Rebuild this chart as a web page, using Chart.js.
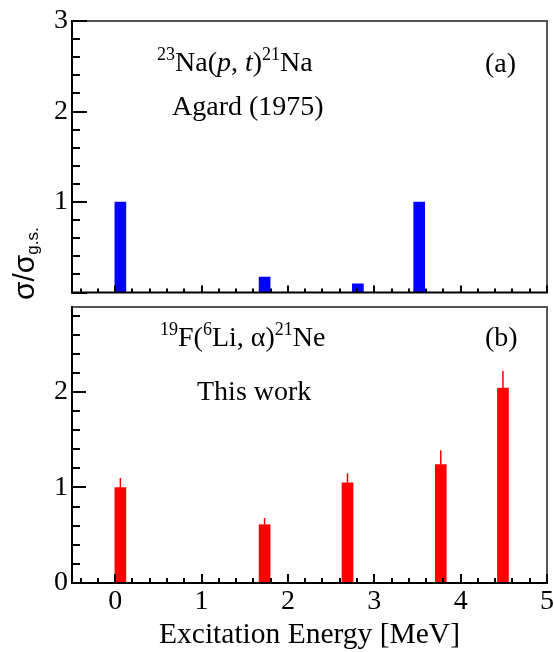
<!DOCTYPE html>
<html>
<head>
<meta charset="utf-8">
<script src="https://cdn.jsdelivr.net/npm/chart.js@4.4.1/dist/chart.umd.min.js"></script>
<style>
  html, body { margin: 0; padding: 0; background: #fff; }
  #wrap { position: relative; width: 554px; height: 652px; }
  canvas { position: absolute; left: 0; }
  #chartA { top: 0; }
  #chartB { top: 300px; }
</style>
</head>
<body>
<div id="wrap">
  <canvas id="chartA" width="554" height="310"></canvas>
  <canvas id="chartB" width="554" height="352"></canvas>
</div>
<script>
// panel (a): 23Na(p,t)21Na, Agard (1975)
const energyA = [0.06, 1.73, 2.81, 3.52];
const ratioA = [1.0, 0.17, 0.095, 1.0];

// panel (b): 19F(6Li,alpha)21Ne, this work
const energyB = [0.06, 1.73, 2.69, 3.77, 4.49];
const ratioB = [1.0, 0.61, 1.05, 1.24, 2.04];
const errorB = [0.10, 0.07, 0.10, 0.15, 0.18];

const xTickValues = [0, 1, 2, 3, 4, 5];
const yTicksA = [0, 1, 2, 3];
const yTicksB = [0, 1, 2];
const minorStep = 0.2;

const SERIF = '"Liberation Serif", "Times New Roman", serif';

// text with super/subscripts, drawn piece by piece
function drawRich(ctx, x, y, parts) {
    let cx = x;
    parts.forEach(p => {
        ctx.font = (p.italic ? 'italic ' : '') + p.size + 'px ' + SERIF;
        ctx.fillText(p.text, cx, y - (p.rise || 0));
        cx += ctx.measureText(p.text).width;
    });
}

// ROOT style frame: ticks inside, axes on left/bottom, grey frame top/right
function drawFrame(chart, t) {
    const ctx = chart.ctx;
    const a = chart.chartArea;
    const xs = chart.scales.x;
    const ys = chart.scales.y;
    ctx.save();

    ctx.fillStyle = '#555';
    ctx.fillRect(a.left, a.top - 1, a.right - a.left + 1, 2);
    ctx.fillRect(a.right - 1, a.top - 1, 2, a.bottom - a.top + 1);

    ctx.strokeStyle = '#000';
    ctx.lineWidth = 2;
    ctx.beginPath();
    const nY = Math.floor(ys.max / minorStep + 1e-6);
    for (let k = 0; k <= nY; k++) {
        const py = Math.round(ys.getPixelForValue(k * minorStep));
        const len = (k % 5 === 0) ? t.yMajor : t.yMinor;
        ctx.moveTo(a.left, py);
        ctx.lineTo(a.left + len, py);
    }
    for (let k = -2; k <= 25; k++) {
        const px = Math.round(xs.getPixelForValue(k * minorStep));
        const len = (Math.abs(k) % 5 === 0) ? t.xMajor : t.xMinor;
        ctx.moveTo(px, a.bottom);
        ctx.lineTo(px, a.bottom - len);
    }
    ctx.stroke();

    ctx.fillStyle = '#000';
    ctx.fillRect(a.left - 1, a.top - 1, 2, a.bottom - a.top + 2);
    ctx.fillRect(a.left - 1, a.bottom - 1, a.right - a.left + 2, 2);
    ctx.restore();
}

function baseOptions(yMax, yTicks, chartTop, xHeight, showX) {
    return {
        responsive: false,
        animation: false,
        layout: { padding: { left: 0, top: chartTop, right: 7, bottom: 0 } },
        plugins: { legend: { display: false }, tooltip: { enabled: false } },
        scales: {
            x: {
                type: 'linear',
                min: -0.5,
                max: 5,
                offset: false,
                grid: { display: false, drawTicks: false },
                border: { display: false },
                afterBuildTicks: s => { s.ticks = xTickValues.map(v => ({ value: v })); },
                afterFit: s => { s.height = xHeight; s.paddingLeft = 0; s.paddingRight = 0; },
                ticks: {
                    display: showX,
                    color: '#000',
                    padding: 1.5,
                    maxRotation: 0,
                    font: { family: SERIF, size: 28, lineHeight: 1.2 }
                },
                title: {
                    display: showX,
                    text: 'Excitation Energy [MeV]',
                    color: '#000',
                    padding: 0,
                    font: { family: SERIF, size: 29.5, lineHeight: 1.15 }
                }
            },
            y: {
                min: 0,
                max: yMax,
                grid: { display: false, drawTicks: false },
                border: { display: false },
                afterBuildTicks: s => { s.ticks = yTicks.map(v => ({ value: v })); },
                afterFit: s => { s.width = 72; s.paddingTop = 0; s.paddingBottom = 0; },
                ticks: {
                    color: '#000',
                    padding: 4,
                    font: { family: SERIF, size: 28 },
                    callback: v => (yTicks === yTicksA && v === 0) ? '' : String(v)
                }
            }
        }
    };
}

// ---------- panel (a) ----------
new Chart(document.getElementById('chartA'), {
    type: 'bar',
    data: {
        datasets: [{
            data: energyA.map((e, i) => ({ x: e, y: ratioA[i] })),
            backgroundColor: '#0000ff',
            barThickness: 11
        }]
    },
    options: baseOptions(3, yTicksA, 21, 17.5, false),
    plugins: [{
        id: 'decorA',
        afterDraw(chart) {
            const ctx = chart.ctx;
            drawFrame(chart, { yMajor: 15, yMinor: 8, xMajor: 7, xMinor: 4 });
            ctx.save();
            ctx.fillStyle = '#000';
            ctx.textBaseline = 'alphabetic';
            drawRich(ctx, 157, 71, [
                { text: '23', size: 18, rise: 11 },
                { text: 'Na(', size: 28 },
                { text: 'p', size: 28, italic: true },
                { text: ', ', size: 28 },
                { text: 't', size: 28, italic: true },
                { text: ')', size: 28 },
                { text: '21', size: 18, rise: 11 },
                { text: 'Na', size: 28 }
            ]);
            drawRich(ctx, 172, 115, [{ text: 'Agard (1975)', size: 28 }]);
            drawRich(ctx, 485, 72, [{ text: '(a)', size: 28 }]);

            // y axis title, rotated
            ctx.translate(34, 300);
            ctx.rotate(-Math.PI / 2);
            ctx.font = '30px "Liberation Sans", Arial, sans-serif';
            ctx.fillText('σ/σ', 0, 0);
            const w = ctx.measureText('σ/σ').width;
            ctx.font = '17px "Liberation Sans", Arial, sans-serif';
            ctx.fillText('g.s.', w, 4);
            ctx.restore();
        }
    }]
});

// ---------- panel (b) ----------
new Chart(document.getElementById('chartB'), {
    type: 'bar',
    data: {
        datasets: [{
            data: energyB.map((e, i) => ({ x: e, y: ratioB[i] })),
            backgroundColor: '#ff0000',
            barThickness: 11
        }]
    },
    options: baseOptions(2.89, yTicksB, 7, 69, true),
    plugins: [{
        id: 'decorB',
        afterDatasetsDraw(chart) {
            const { ctx, scales: { x, y } } = chart;
            ctx.save();
            ctx.strokeStyle = '#ff0000';
            ctx.lineWidth = 1.5;
            ctx.beginPath();
            energyB.forEach((e, i) => {
                const px = x.getPixelForValue(e);
                ctx.moveTo(px, y.getPixelForValue(ratioB[i]));
                ctx.lineTo(px, y.getPixelForValue(ratioB[i] + errorB[i]));
            });
            ctx.stroke();
            ctx.restore();
        },
        afterDraw(chart) {
            const ctx = chart.ctx;
            drawFrame(chart, { yMajor: 14, yMinor: 8, xMajor: 9, xMinor: 5 });
            ctx.save();
            ctx.fillStyle = '#000';
            ctx.textBaseline = 'alphabetic';
            drawRich(ctx, 160, 46, [
                { text: '19', size: 18, rise: 11 },
                { text: 'F(', size: 28 },
                { text: '6', size: 18, rise: 11 },
                { text: 'Li, α)', size: 28 },
                { text: '21', size: 18, rise: 11 },
                { text: 'Ne', size: 28 }
            ]);
            drawRich(ctx, 197, 100, [{ text: 'This work', size: 28 }]);
            drawRich(ctx, 485, 46, [{ text: '(b)', size: 28 }]);
            ctx.restore();
        }
    }]
});
</script>
</body>
</html>
